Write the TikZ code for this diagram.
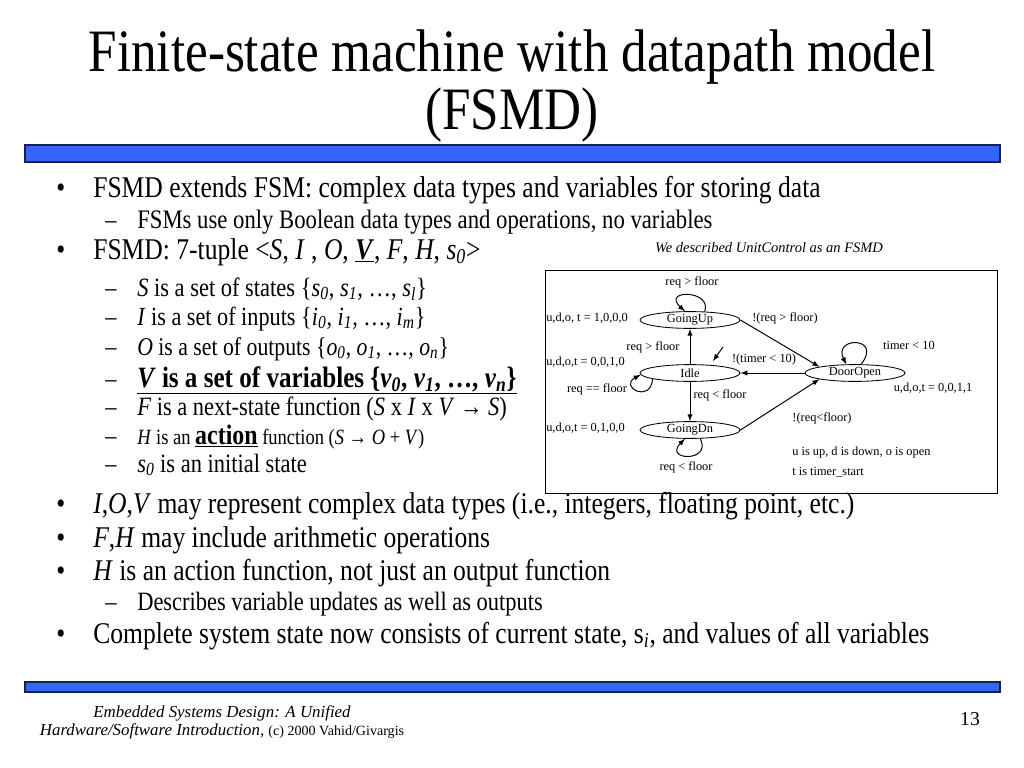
\documentclass[tikz,border=0pt]{standalone}
\usepackage{fontspec}
\setmainfont{Liberation Serif}
\newfontfamily\slidefont{Liberation Serif}[FakeStretch=0.85]
\usetikzlibrary{shapes.geometric}
\definecolor{barblue}{RGB}{51,102,255}
\definecolor{barline}{RGB}{25,35,70}
\newcommand\subidx[1]{\textsubscript{\textit{#1}}}
\begin{document}
\begin{tikzpicture}[x=0.025cm, y=0.025cm,
  txt/.style={anchor=base west, inner sep=0pt},
  bul/.style={txt, font=\slidefont\fontsize{21.4}{25}\selectfont},
  subb/.style={txt, font=\slidefont\fontsize{18.8}{22}\selectfont},
  state/.style={draw, ellipse, line width=0.6pt, minimum width=2.5cm, minimum height=0.42cm, inner sep=0pt, font=\fontsize{8.8}{10}\selectfont},
  lbl/.style={inner sep=0pt, font=\fontsize{8.8}{10}\selectfont},
  trans/.style={->, >=latex, line width=0.7pt},
  bar/.style={fill=barblue, draw=barline, line width=0.8pt}]
\useasboundingbox (0,0) rectangle (1024,-768);
\fill[white] (0,0) rectangle (1024,-768);
% title
\node[anchor=base, inner sep=0pt, font=\slidefont\fontsize{42.8}{50}\selectfont] (title1) at (512,-72) {Finite-state machine with datapath model};
\node[anchor=base, inner sep=0pt, font=\slidefont\fontsize{42.8}{50}\selectfont] (title2) at (512,-130) {(FSMD)};
\draw[bar] (25,-145) rectangle (1000,-162);
% bullets
\node[bul] (d1) at (56,-197) {\textbullet};
\node[bul] (t1) at (93,-197) {FSMD extends FSM: complex data types and variables for storing data};
\node[subb] (s1) at (105,-228) {–};
\node[subb, font=\slidefont\fontsize{19}{22}\selectfont] (u1) at (137,-228) {FSMs use only Boolean data types and operations, no variables};
\node[bul] (d2) at (56,-259) {\textbullet};
\node[bul] (t2) at (93,-259) {FSMD: 7-tuple <\textit{S}, \textit{I} , \textit{O}, \underline{\textbf{\textit{V}}}, \textit{F}, \textit{H}, \textit{s}\subidx{0}>};
\node[subb] (s2) at (105,-296) {–};
\node[subb] (u2) at (137,-296) {\textit{S} is a set of states \{\textit{s}\subidx{0}, \textit{s}\subidx{1}, …, \textit{s}\subidx{l}\}};
\node[subb] (s3) at (105,-325) {–};
\node[subb, font=\slidefont\fontsize{18.6}{22}\selectfont] (u3) at (137,-325) {\textit{I} is a set of inputs \{\textit{i}\subidx{0}, \textit{i}\subidx{1}, …, \textit{i}\subidx{m}\}};
\node[subb] (s4) at (105,-355) {–};
\node[subb, font=\slidefont\fontsize{18.2}{22}\selectfont] (u4) at (137,-355) {\textit{O} is a set of outputs \{\textit{o}\subidx{0}, \textit{o}\subidx{1}, …, \textit{o}\subidx{n}\}};
\node[subb] (s5) at (105,-387) {–};
\node[subb, font=\slidefont\bfseries\fontsize{21}{24}\selectfont] (u5) at (137,-387) {\underline{\textit{V} is a set of variables \{\textit{v}\subidx{0}, \textit{v}\subidx{1}, …, \textit{v}\subidx{n}\}}};
\node[subb] (s6) at (105,-415) {–};
\node[subb] (u6) at (137,-415) {\textit{F} is a next-state function (\textit{S} x \textit{I} x \textit{V} → \textit{S})};
\node[subb] (s7) at (105,-444) {–};
\node[subb, font=\slidefont\fontsize{15.5}{18}\selectfont] (u7) at (137,-444) {\textit{H} is an {\fontsize{20}{22}\selectfont\underline{\textbf{action}}} function (\textit{S} → \textit{O} + \textit{V})};
\node[subb] (s8) at (105,-472) {–};
\node[subb] (u8) at (137,-472) {\textit{s}\subidx{0} is an initial state};
\node[bul] (d3) at (56,-513) {\textbullet};
\node[bul] (t3) at (93,-513) {\textit{I},\textit{O},\textit{V} may represent complex data types (i.e., integers, floating point, etc.)};
\node[bul] (d4) at (56,-547) {\textbullet};
\node[bul] (t4) at (93,-547) {\textit{F},\textit{H} may include arithmetic operations};
\node[bul] (d5) at (56,-580) {\textbullet};
\node[bul] (t5) at (93,-580) {\textit{H} is an action function, not just an output function};
\node[subb] (s9) at (105,-610) {–};
\node[subb] (u9) at (137,-610) {Describes variable updates as well as outputs};
\node[bul] (d6) at (56,-643) {\textbullet};
\node[bul] (t6) at (93,-643) {Complete system state now consists of current state, s\subidx{i}, and values of all variables};
% UnitControl FSMD
\node[font=\itshape\fontsize{10.3}{12}\selectfont] (caption) at (769,-248) {We described UnitControl as an FSMD};
\draw[line width=0.7pt] (545,-270) rectangle (997,-493);
\node[state] (GoingUp) at (690,-320) {GoingUp};
\node[state] (Idle) at (690,-373) {Idle};
\node[state] (GoingDn) at (690,-430) {GoingDn};
\node[state] (DoorOpen) at (855,-373) {DoorOpen};
\coordinate (init) at (723,-347);
\coordinate (initend) at (713,-361);
\draw[trans] (init) -- (initend);
\draw[trans] (Idle) -- (GoingUp);
\draw[trans] (Idle) -- (GoingDn);
\draw[trans] (GoingUp.east) -- (DoorOpen.north west);
\draw[trans] (DoorOpen) -- (Idle);
\draw[trans] (GoingDn.east) -- (DoorOpen.south west);
\draw[trans] (GoingUp.30) .. controls +(8,22) and +(-24,22) .. (GoingUp.120);
\draw[trans] (Idle.189) .. controls +(-2,-25) and +(-22,-12) .. (Idle.182);
\draw[trans] (GoingDn.-40) .. controls +(12,-24) and +(-22,-22) .. (GoingDn.-120);
\draw[trans] (DoorOpen.55) .. controls +(22,28) and +(-14,28) .. (DoorOpen.135);
\node[lbl] (l1) at (692,-282) {req > floor};
\node[lbl, anchor=west] (o1) at (546,-318) {u,d,o, t = 1,0,0,0};
\node[lbl] (l2) at (785,-318) {!(req > floor)};
\node[lbl] (l3) at (653,-347) {req > floor};
\node[lbl, anchor=west] (o2) at (546,-362) {u,d,o,t = 0,0,1,0};
\node[lbl] (l4) at (764,-360) {!(timer < 10)};
\node[lbl] (l5) at (909,-345) {timer < 10};
\node[lbl] (l6) at (597,-389) {req == floor};
\node[lbl] (l7) at (720,-395) {req < floor};
\node[lbl] (o3) at (933,-388) {u,d,o,t = 0,0,1,1};
\node[lbl, anchor=west] (o4) at (546,-428) {u,d,o,t = 0,1,0,0};
\node[lbl] (l8) at (822,-418) {!(req<floor)};
\node[lbl] (l9) at (686,-467) {req < floor};
\node[lbl, anchor=west] (n1) at (792,-453) {u is up, d is down, o is open};
\node[lbl, anchor=west] (n2) at (792,-472) {t is timer\_start};
% footer
\draw[bar] (25,-682) rectangle (1000,-692);
\node[anchor=base, inner sep=0pt, font=\itshape\fontsize{12}{14}\selectfont] (foot1) at (222,-717) {Embedded Systems Design: A Unified};
\node[anchor=base, inner sep=0pt, font=\fontsize{12}{14}\selectfont] (foot2) at (222,-735) {\textit{Hardware/Software Introduction,} {\fontsize{10}{12}\selectfont (c) 2000 Vahid/Givargis}};
\node[inner sep=0pt, font=\fontsize{14}{16}\selectfont] (page) at (970,-719) {13};
\end{tikzpicture}
\end{document}
